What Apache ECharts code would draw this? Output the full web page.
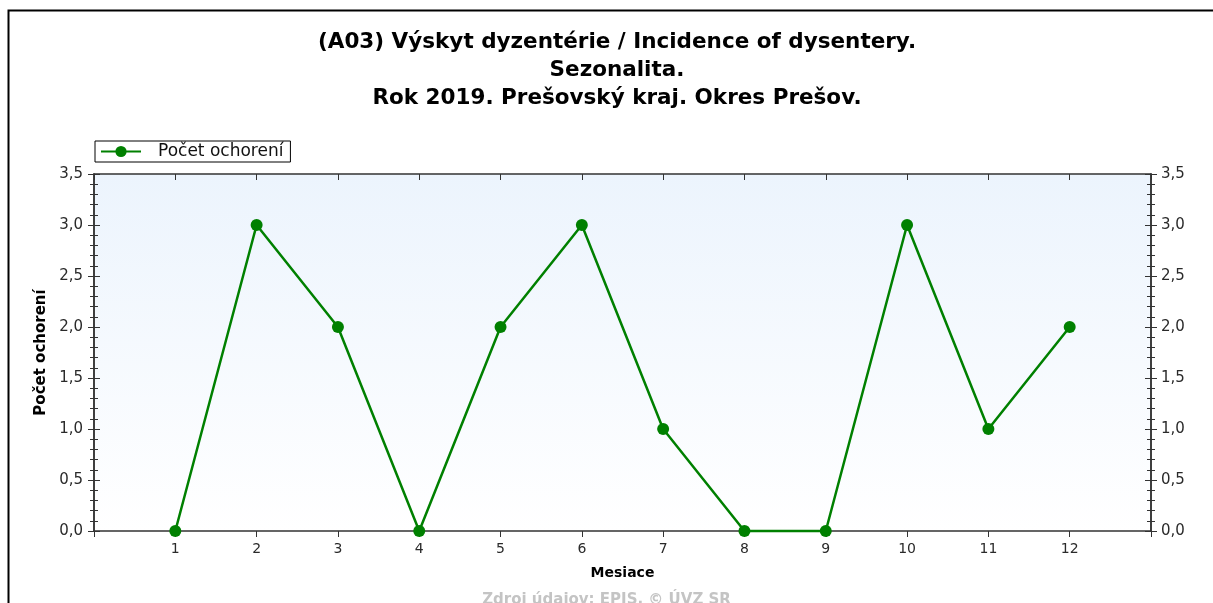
<!DOCTYPE html>
<html>
<head>
<meta charset="utf-8">
<script src="https://cdn.jsdelivr.net/npm/echarts@6/dist/echarts.min.js"></script>
<style>
html, body { margin:0; padding:0; background:#fff; }
#chart { width:1213px; height:603px; }
</style>
</head>
<body>
<div id="chart"></div>
<script>
var months = [1,2,3,4,5,6,7,8,9,10,11,12];
var cases = [0,3,2,0,2,3,1,0,0,3,1,2];

var chart = echarts.init(document.getElementById('chart'));
var pts = months.map(function(m, i){ return [m, cases[i]]; });
var txtColor = '#2a2a2a';
var lineColor = '#333';
var font = 'DejaVu Sans, Verdana, sans-serif';

function fmtY(v){ return v.toFixed(1).replace('.', ','); }

var yBase = {
    type:'value', min:0, max:3.5, interval:0.5,
    splitLine:{show:false},
    axisLine:{show:true, lineStyle:{color:lineColor, width:1.5}}
};

var option = {
    animation:false,
    textStyle:{fontFamily:font},
    title:{
        text:'(A03) Výskyt dyzentérie / Incidence of dysentery.\nSezonalita.\nRok 2019. Prešovský kraj. Okres Prešov.',
        left:612, top:23, textAlign:'center',
        textStyle:{fontSize:21.5, fontWeight:'bold', color:'#000', lineHeight:28, fontFamily:font}
    },
    legend:{
        data:['Počet ochorení'],
        left:95, top:141,
        padding:[2,7,2,5],
        borderColor:'#000', borderWidth:1, borderRadius:0,
        itemWidth:40, itemHeight:14, itemGap:4,
        textStyle:{fontSize:17, color:'#111', fontFamily:font, padding:[0,0,0,12]}
    },
    grid:{
        left:94, top:174, right:62, bottom:72,
        show:true, borderWidth:0,
        backgroundColor:new echarts.graphic.LinearGradient(0,0,0,1,[
            {offset:0, color:'#ecf4fd'},
            {offset:1, color:'#ffffff'}
        ])
    },
    xAxis:[{
        type:'value', min:0, max:13, interval:1,
        name:'Mesiace', nameLocation:'middle', nameGap:35,
        nameTextStyle:{fontSize:14, fontWeight:'bold', color:'#000', fontFamily:font},
        splitLine:{show:false},
        axisLine:{show:true, onZero:false, lineStyle:{color:lineColor, width:1.5}},
        axisTick:{show:true, length:6, inside:false, lineStyle:{color:lineColor}},
        axisLabel:{fontSize:14, color:txtColor, margin:11, fontFamily:font,
            formatter:function(v){ return (v < 1 || v > 12) ? '' : String(v); }}
    },{
        type:'value', min:0, max:13, interval:1, position:'top',
        splitLine:{show:false},
        axisLine:{show:true, onZero:false, lineStyle:{color:lineColor, width:1.5}},
        axisTick:{show:true, length:6, inside:true, lineStyle:{color:lineColor}},
        axisLabel:{show:false}
    }],
    yAxis:[
        echarts.util.merge({
            position:'left',
            name:'Počet ochorení', nameLocation:'middle', nameGap:42, nameRotate:90,
            nameTextStyle:{fontSize:15, fontWeight:'bold', color:'#000', fontFamily:font},
            axisTick:{show:true, length:6, lineStyle:{color:lineColor}},
            minorTick:{show:true, splitNumber:5, length:4, lineStyle:{color:lineColor}},
            axisLabel:{fontSize:15, color:txtColor, margin:11, fontFamily:font, formatter:fmtY}
        }, yBase, true),
        echarts.util.merge({
            position:'left',
            axisTick:{show:true, length:6, inside:true, lineStyle:{color:lineColor}},
            minorTick:{show:true, splitNumber:5, length:4, lineStyle:{color:lineColor}},
            axisLabel:{show:false}
        }, yBase, true),
        echarts.util.merge({
            position:'right',
            axisTick:{show:true, length:6, lineStyle:{color:lineColor}},
            minorTick:{show:true, splitNumber:5, length:4, lineStyle:{color:lineColor}},
            axisLabel:{fontSize:15, color:txtColor, margin:10, fontFamily:font, formatter:fmtY}
        }, yBase, true),
        echarts.util.merge({
            position:'right',
            axisTick:{show:true, length:6, inside:true, lineStyle:{color:lineColor}},
            minorTick:{show:true, splitNumber:5, length:4, lineStyle:{color:lineColor}},
            axisLabel:{show:false}
        }, yBase, true)
    ],
    graphic:[{
        type:'rect', left:6, top:8, z:100,
        shape:{x:0, y:0, width:1230, height:700},
        style:{fill:'none', stroke:'#000', lineWidth:2}
    },{
        type:'text', left:'center', top:593, z:100,
        style:{text:'Zdroj údajov: EPIS, © ÚVZ SR',
            fill:'#c4c4c4', font:'bold 15px DejaVu Sans, Verdana, sans-serif'}
    }],
    series:[{
        name:'Počet ochorení',
        type:'line',
        data:pts,
        xAxisIndex:0, yAxisIndex:0,
        symbol:'circle', symbolSize:12,
        clip:false,
        lineStyle:{color:'#008000', width:2.5},
        itemStyle:{color:'#008000'},
        z:1
    }]
};
chart.setOption(option);
window.onresize = chart.resize;
</script>
</body>
</html>
